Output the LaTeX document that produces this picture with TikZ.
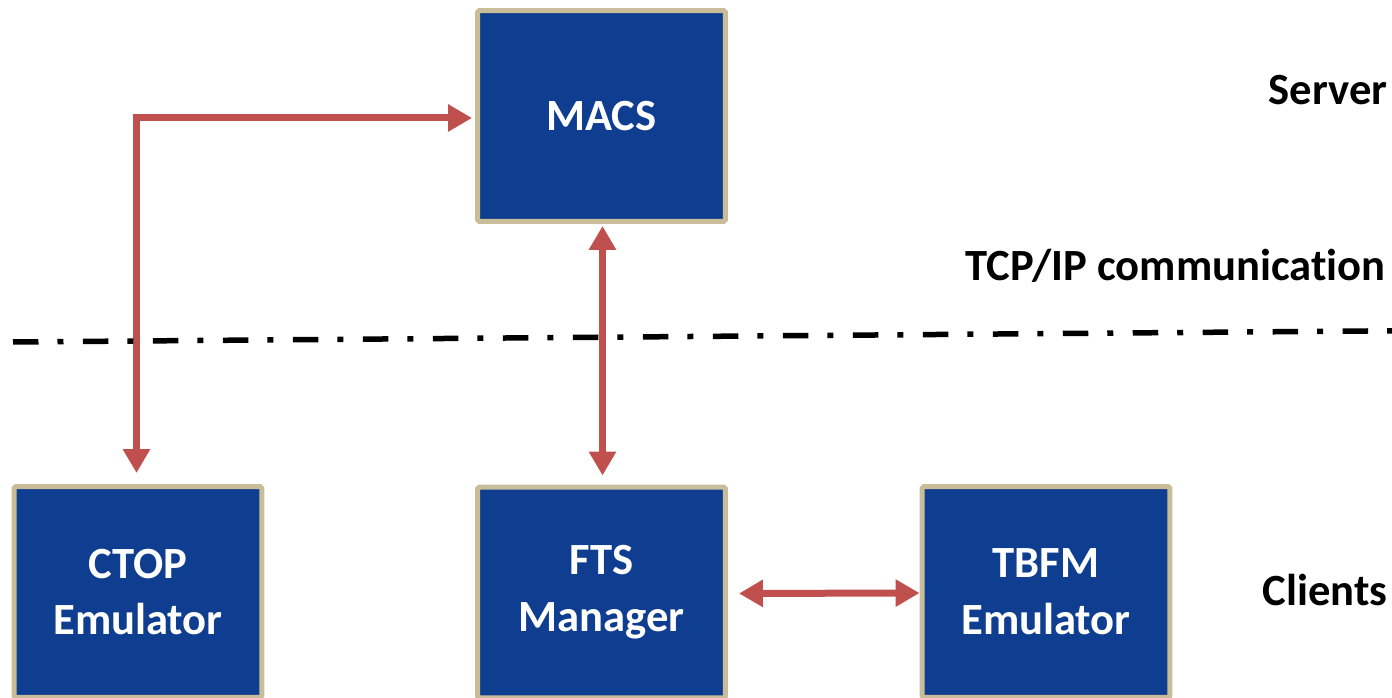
\documentclass[tikz,border=0pt]{standalone}
\usepackage{fontspec}
\setmainfont{Carlito}[Ligatures={NoCommon,NoRare,NoDiscretionary}]
\usetikzlibrary{arrows.meta,calc,positioning}
\definecolor{UnitBlue}{HTML}{0F3D8F}
\definecolor{UnitRim}{HTML}{C8BD98}
\definecolor{LinkRed}{HTML}{C0504D}
\tikzset{
  every node/.style={font=\bfseries\fontsize{25.4}{32.3}\selectfont},
  unit/.style={draw=UnitRim, line width=0.1cm, fill=UnitBlue, text=white, minimum width=4.96cm, minimum height=4.22cm, align=center, rounded corners=1pt, inner sep=0pt},
  link/.style={{Triangle[length=0.48cm,width=0.52cm]}-{Triangle[length=0.48cm,width=0.52cm]}, draw=LinkRed, line width=0.14cm},
  divider/.style={draw=black, line width=0.11cm, dash pattern=on 0.51cm off 0.38cm on 0.12cm off 0.39cm},
  tier/.style={anchor=base east, text=black, inner sep=0pt},
}

\begin{document}
\begin{tikzpicture}[x=0.02cm,y=0.02cm]
  \useasboundingbox (0,0) rectangle (1392,697);
  % server and clients
  \node[unit] (macs) at (601.5,581) {MACS};
  \node[unit] (ctop) at (138,105) {CTOP\\Emulator};
  \node[unit] (fts) at (601.5,104.5) {FTS\\Manager};
  \node[unit] (tbfm) at (1046,105) {TBFM\\Emulator};
  % links
  \draw[link, shorten <=0.22cm, shorten >=0.06cm] ([xshift=-0.03cm]ctop.north) |- ([yshift=-0.04cm]macs.west);
  \draw[link, shorten <=0.04cm, shorten >=0.18cm] ([xshift=0.02cm]macs.south) -- ([xshift=0.02cm]fts.north);
  \draw[link, shorten <=0.22cm] ([yshift=-0.02cm]fts.east) -- ([yshift=-0.02cm]tbfm.west);
  % network boundary
  \draw[divider] (13,355) -- (1392,366.2);
  \node[tier] (server) at (1388,592) {Server};
  \node[tier] (tcpip) at (1386,416) {TCP/IP communication};
  \node[tier] (clients) at (1388,92) {Clients};
\end{tikzpicture}
\end{document}
